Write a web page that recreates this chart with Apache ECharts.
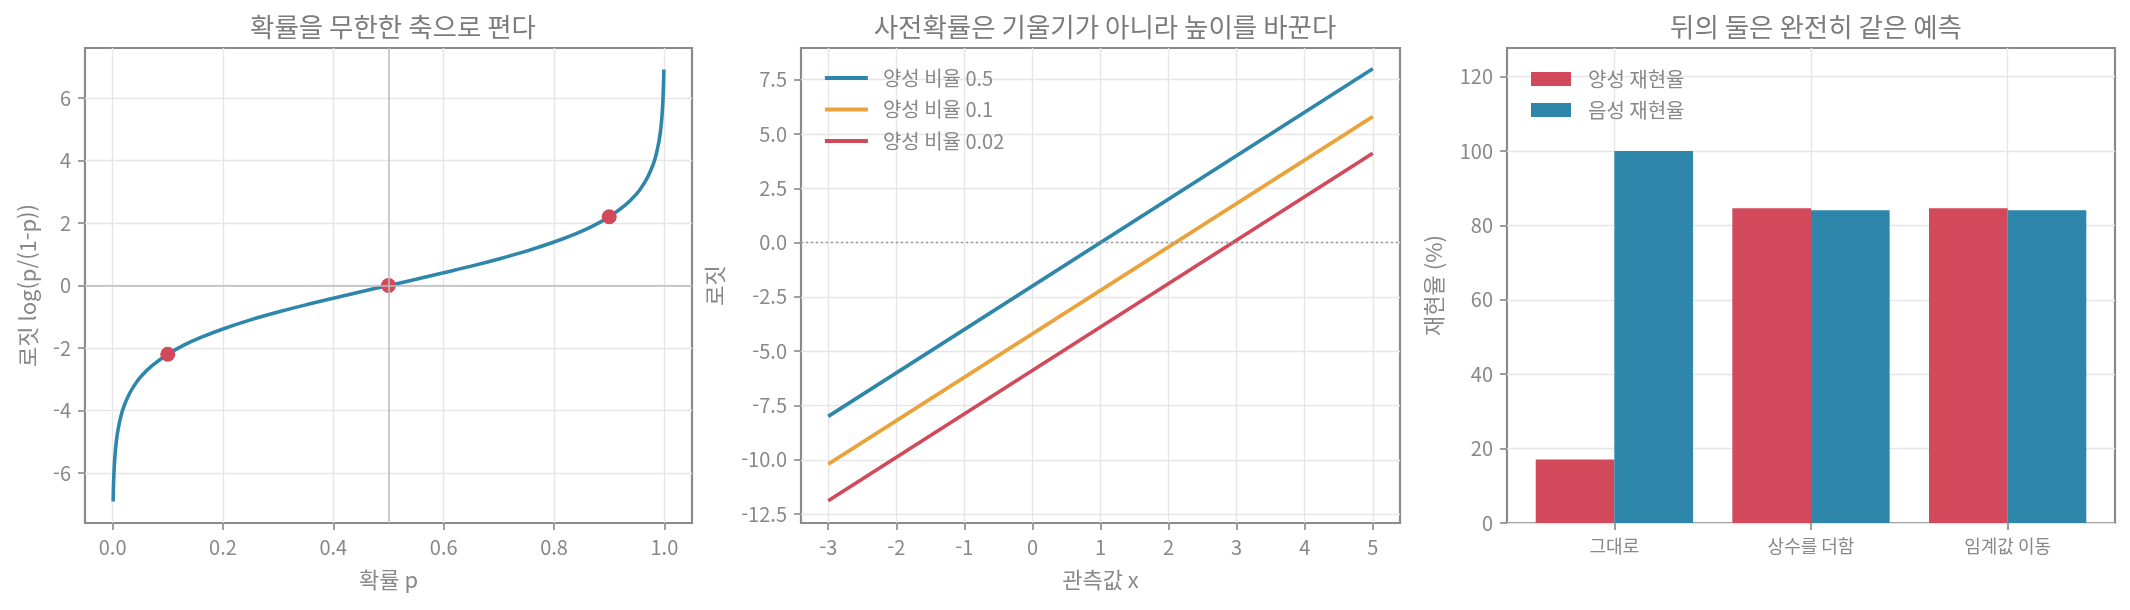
<!DOCTYPE html>
<html lang="ko">
<head>
    <meta charset="UTF-8">
    <title>로짓 그림</title>
    <script src="https://cdn.jsdelivr.net/npm/echarts@6/dist/echarts.min.js"></script>
</head>
<body style="margin:0;background:#fff">
<div id="chart" style="width: 2130px;height: 610px"></div>
<script type="text/javascript">
    // 왼쪽: 확률 -> 로짓 곡선 (그림에서 읽은 점)
    var probP = [0.001, 0.0015, 0.002, 0.003, 0.005, 0.0075, 0.01, 0.015, 0.02, 0.03, 0.04, 0.05, 0.07, 0.1, 0.13, 0.16, 0.2, 0.25, 0.3, 0.35, 0.4, 0.45, 0.5,
        0.55, 0.6, 0.65, 0.7, 0.75, 0.8, 0.84, 0.87, 0.9, 0.93, 0.95, 0.96, 0.97, 0.98, 0.985, 0.99, 0.9925, 0.995, 0.997, 0.998, 0.9985, 0.999];
    var logitVal = [-6.91, -6.50, -6.21, -5.81, -5.29, -4.89, -4.60, -4.19, -3.89, -3.48, -3.18, -2.94, -2.59, -2.20, -1.90, -1.66, -1.39, -1.10, -0.85, -0.62, -0.41, -0.20, 0,
        0.20, 0.41, 0.62, 0.85, 1.10, 1.39, 1.66, 1.90, 2.20, 2.59, 2.94, 3.18, 3.48, 3.89, 4.19, 4.60, 4.89, 5.29, 5.81, 6.21, 6.50, 6.91];
    var dotP = [0.1, 0.5, 0.9];
    var dotLogit = [-2.20, 0, 2.20];
    var p1XTicks = [0, 0.2, 0.4, 0.6, 0.8, 1.0];
    var p1YTicks = [-6, -4, -2, 0, 2, 4, 6];

    // 가운데: 사전확률별 직선
    var obsX = [-3, 5];
    var prior05 = [-8.0, 8.0];
    var prior01 = [-10.2, 5.8];
    var prior002 = [-11.89, 4.11];
    var priorNames = ['양성 비율 0.5', '양성 비율 0.1', '양성 비율 0.02'];
    var p2XTicks = [-3, -2, -1, 0, 1, 2, 3, 4, 5];
    var p2YTicks = [-12.5, -10, -7.5, -5, -2.5, 0, 2.5, 5, 7.5];

    // 오른쪽: 재현율 막대
    var methods = ['그대로', '상수를 더함', '임계값 이동'];
    var posRecall = [17.1, 84.6, 84.6];
    var negRecall = [100, 84.1, 84.1];
    var recallNames = ['양성 재현율', '음성 재현율'];
    var p3YTicks = [0, 20, 40, 60, 80, 100, 120];

    var BLUE = '#2e86ab', ORANGE = '#eaa23b', RED = '#d1495b';
    var FONT = 'Noto Sans CJK KR';
    var TXT = '#888';

    function pairs(xs, ys) {
        return xs.map(function (x, i) { return [x, ys[i]]; });
    }

    function valueAxis(opt) {
        return {
            type: 'value',
            gridIndex: opt.grid,
            min: opt.min,
            max: opt.max,
            name: opt.name || '',
            nameLocation: 'middle',
            nameGap: opt.nameGap || 30,
            nameTextStyle: {color: TXT, fontSize: 22, fontFamily: FONT},
            axisLine: {show: false, onZero: false},
            axisTick: {show: true, length: 7, customValues: opt.ticks, lineStyle: {color: '#888', width: 1.6}},
            axisLabel: {
                customValues: opt.ticks,
                color: TXT, fontSize: opt.fontSize || 20, fontFamily: FONT,
                margin: opt.margin || 14,
                formatter: opt.formatter
            },
            splitLine: {show: true, lineStyle: {color: '#e6e6e6', width: 1.4}}
        };
    }

    function titleAt(text, cx) {
        return {
            text: text, left: cx, top: 9, textAlign: 'center',
            textStyle: {color: '#7c7c7c', fontSize: 26.5, fontWeight: 'normal', fontFamily: FONT}
        };
    }

    var chart = echarts.init(document.getElementById('chart'));

    var gridBase = {show: true, borderColor: '#8a8a8a', borderWidth: 2.2, top: 48, height: 475};

    var options = {
        animation: false,
        textStyle: {fontFamily: FONT},
        title: [
            titleAt('확률을 무한한 축으로 편다', 388),
            titleAt('사전확률은 기울기가 아니라 높이를 바꾼다', 1100),
            titleAt('뒤의 둘은 완전히 같은 예측', 1811)
        ],
        grid: [
            Object.assign({left: 85, width: 607}, gridBase),
            Object.assign({left: 801, width: 599}, gridBase),
            Object.assign({left: 1507, width: 608}, gridBase)
        ],
        legend: [
            {
                data: priorNames, orient: 'vertical', left: 818, top: 63,
                itemWidth: 43, itemHeight: 20, itemGap: 11.5,
                itemStyle: {opacity: 0},
                lineStyle: {width: 3.8},
                textStyle: {color: TXT, fontSize: 20, fontFamily: FONT, padding: [0, 0, 0, 10]}
            },
            {
                data: recallNames, orient: 'vertical', left: 1526, top: 64,
                itemWidth: 40, itemHeight: 14, itemGap: 11, icon: 'rect',
                textStyle: {color: TXT, fontSize: 20, fontFamily: FONT, padding: [0, 0, 0, 12]}
            }
        ],
        xAxis: [
            valueAxis({grid: 0, min: -0.05, max: 1.05, ticks: p1XTicks, name: '확률 p', nameGap: 46,
                formatter: function (v) { return v.toFixed(1); }}),
            valueAxis({grid: 1, min: -3.4, max: 5.4, ticks: p2XTicks, name: '관측값 x', nameGap: 46}),
            valueAxis({grid: 2, min: -0.546, max: 2.546, ticks: [0, 1, 2], fontSize: 18, margin: 14,
                formatter: function (v) { return methods[Math.round(v)]; }})
        ],
        yAxis: [
            valueAxis({grid: 0, min: -7.6, max: 7.6, ticks: p1YTicks, name: '로짓 log(p/(1-p))', nameGap: 46}),
            valueAxis({grid: 1, min: -12.91, max: 8.96, ticks: p2YTicks, name: '로짓', nameGap: 75,
                formatter: function (v) { return v.toFixed(1); }}),
            valueAxis({grid: 2, min: 0, max: 127.7, ticks: p3YTicks, name: '재현율 (%)', nameGap: 62})
        ],
        series: [
            {
                type: 'line', xAxisIndex: 0, yAxisIndex: 0, data: [], z: 1, silent: true,
                markLine: {
                    silent: true, symbol: 'none', label: {show: false},
                    lineStyle: {color: '#bdbdbd', width: 1.6, type: 'solid'},
                    data: [{xAxis: 0.5}, {yAxis: 0}]
                }
            },
            {
                type: 'line', xAxisIndex: 0, yAxisIndex: 0, z: 2,
                data: pairs(probP, logitVal), smooth: 0.3, symbol: 'none',
                lineStyle: {color: BLUE, width: 3.6}
            },
            {
                type: 'scatter', xAxisIndex: 0, yAxisIndex: 0, z: 3,
                data: pairs(dotP, dotLogit), symbolSize: 15,
                itemStyle: {color: RED, opacity: 1}
            },
            {
                type: 'line', xAxisIndex: 1, yAxisIndex: 1, data: [], z: 1, silent: true,
                markLine: {
                    silent: true, symbol: 'none', label: {show: false},
                    lineStyle: {color: '#9a9a9a', width: 1.4, type: [2, 3]},
                    data: [{yAxis: 0}]
                }
            },
            {
                name: priorNames[0], type: 'line', xAxisIndex: 1, yAxisIndex: 1, z: 2,
                data: pairs(obsX, prior05), symbol: 'none',
                lineStyle: {color: BLUE, width: 3.6}, itemStyle: {color: BLUE}
            },
            {
                name: priorNames[1], type: 'line', xAxisIndex: 1, yAxisIndex: 1, z: 2,
                data: pairs(obsX, prior01), symbol: 'none',
                lineStyle: {color: ORANGE, width: 3.6}, itemStyle: {color: ORANGE}
            },
            {
                name: priorNames[2], type: 'line', xAxisIndex: 1, yAxisIndex: 1, z: 2,
                data: pairs(obsX, prior002), symbol: 'none',
                lineStyle: {color: RED, width: 3.6}, itemStyle: {color: RED}
            },
            {
                name: recallNames[0], type: 'bar', xAxisIndex: 2, yAxisIndex: 2,
                data: pairs([0, 1, 2], posRecall), barWidth: '40%', barGap: '0%',
                itemStyle: {color: RED}
            },
            {
                name: recallNames[1], type: 'bar', xAxisIndex: 2, yAxisIndex: 2,
                data: pairs([0, 1, 2], negRecall), barWidth: '40%', barGap: '0%',
                itemStyle: {color: BLUE}
            }
        ]
    };
    chart.setOption(options);
</script>
</body>
</html>
